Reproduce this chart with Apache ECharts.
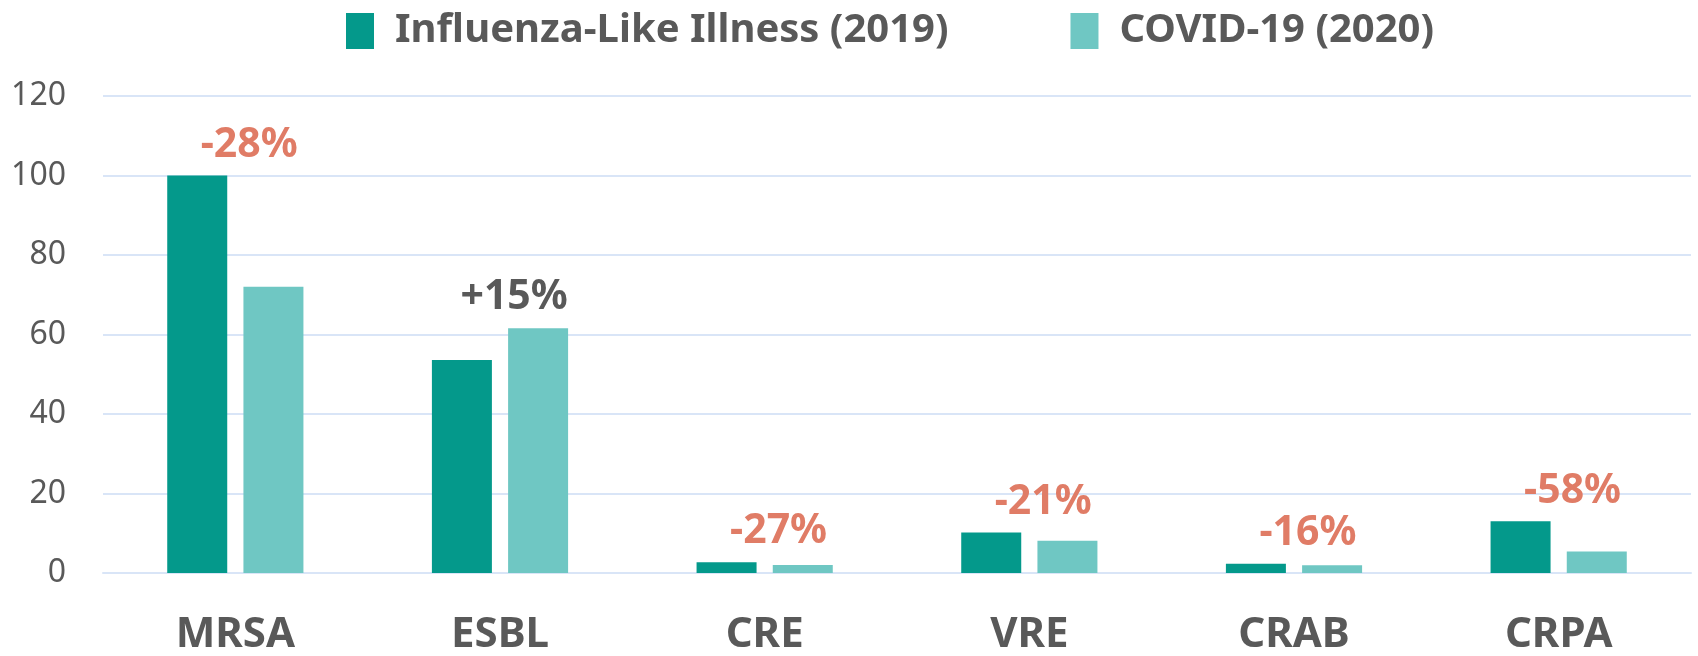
<!DOCTYPE html>
<html>
<head>
<meta charset="utf-8">
<script src="https://cdn.jsdelivr.net/npm/echarts@6/dist/echarts.min.js"></script>
<style>
  html, body { margin: 0; padding: 0; background: #fff; }
  #chart { width: 1698px; height: 656px; }
</style>
</head>
<body>
<div id="chart"></div>
<script>
var categories = ['MRSA', 'ESBL', 'CRE', 'VRE', 'CRAB', 'CRPA'];
var ili2019 = [100, 53.6, 2.7, 10.2, 2.35, 13.0];
var covid2020 = [72, 61.6, 2.0, 8.1, 1.95, 5.4];
var changes = ['-28%', '+15%', '-27%', '-21%', '-16%', '-58%'];
var yTicks = [0, 20, 40, 60, 80, 100, 120];

var fontFamily = '"Noto Sans", "Open Sans", sans-serif';
var grey = '#595959';
var salmon = '#E07C66';

// put the change label on the taller bar of each pair
var changeLabel = function (i, onSecond) {
    return {
        show: true,
        position: 'top',
        distance: 10,
        formatter: changes[i],
        offset: onSecond ? [-24, 0] : [52, 0],
        color: changes[i].charAt(0) === '+' ? grey : salmon,
        fontFamily: fontFamily,
        fontWeight: 'bold',
        fontSize: 41
    };
};

var firstData = ili2019.map(function (v, i) {
    var item = {value: v};
    if (v >= covid2020[i]) item.label = changeLabel(i, false);
    return item;
});
var secondData = covid2020.map(function (v, i) {
    var item = {value: v};
    if (v > ili2019[i]) item.label = changeLabel(i, true);
    return item;
});

var option = {
    animation: false,
    color: ['#04998B', '#6FC7C3'],
    legend: {
        left: 346,
        top: 11,
        padding: 0,
        itemWidth: 28,
        itemHeight: 36,
        itemGap: 122,
        icon: 'rect',
        textStyle: {
            color: grey,
            fontFamily: fontFamily,
            fontWeight: 'bold',
            fontSize: 40,
            padding: [0, 0, 0, 16]
        },
        data: ['Influenza-Like Illness (2019)', 'COVID-19 (2020)']
    },
    grid: {
        left: 103,
        right: 7,
        top: 96,
        bottom: 82,
        containLabel: false
    },
    xAxis: [
        {
            type: 'category',
            data: categories,
            axisLine: {show: true, lineStyle: {color: '#D9E5F7', width: 2}},
            axisTick: {show: false},
            axisLabel: {
                color: grey,
                fontFamily: fontFamily,
                fontWeight: 'bold',
                fontSize: 42,
                margin: 41
            }
        }
    ],
    yAxis: [
        {
            type: 'value',
            min: yTicks[0],
            max: yTicks[yTicks.length - 1],
            interval: 20,
            axisLine: {show: false},
            axisTick: {show: false},
            axisLabel: {
                color: grey,
                fontFamily: fontFamily,
                fontSize: 32,
                margin: 37
            },
            splitLine: {lineStyle: {color: '#D9E5F7', width: 2}}
        }
    ],
    series: [
        {
            name: 'Influenza-Like Illness (2019)',
            type: 'bar',
            barWidth: 60,
            barGap: '27%',
            data: firstData
        },
        {
            name: 'COVID-19 (2020)',
            type: 'bar',
            barWidth: 60,
            barGap: '27%',
            data: secondData
        }
    ]
};

var myChart = echarts.init(document.getElementById('chart'));
myChart.setOption(option);
</script>
</body>
</html>
